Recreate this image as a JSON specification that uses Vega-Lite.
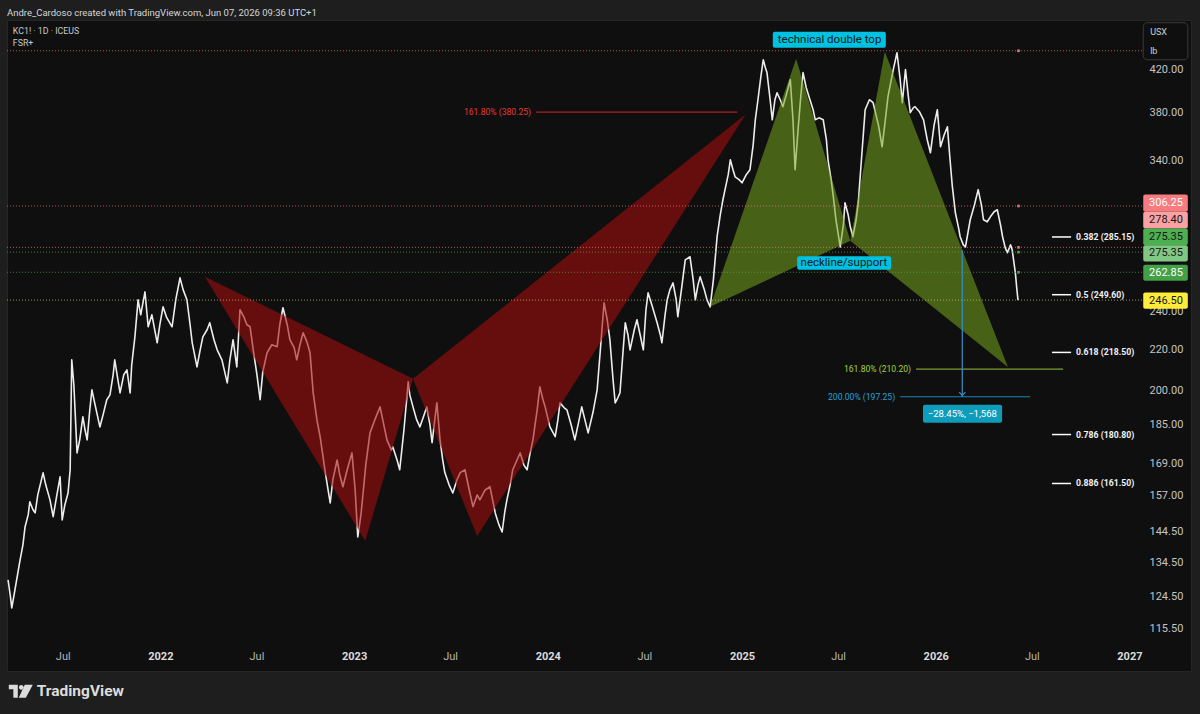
{
  "$schema": "https://vega.github.io/schema/vega-lite/v6.json",
  "usermeta": {"embedOptions": {"actions": false}},
  "width": 1184,
  "height": 651,
  "autosize": {"type": "none"},
  "padding": {"left": 7, "top": 20, "right": 9, "bottom": 43},
  "background": "#1e1e1e",
  "config": {
    "view": {"fill": "#0f0f0f", "stroke": "#262626"},
    "font": "Roboto",
    "text": {"font": "Roboto"}
  },
  "title": {
    "text": "Andre_Cardoso created with TradingView.com, Jun 07, 2026 09:36 UTC+1",
    "anchor": "start",
    "frame": "group",
    "offset": 3,
    "fontSize": 9.5,
    "font": "Roboto",
    "fontWeight": "normal",
    "color": "#d6d6d6"
  },
  "datasets": {
    "px": [
      {"d":"2021-03-20","p":129.3},{"d":"2021-03-24","p":124.9},{"d":"2021-03-27","p":121.2},{"d":"2021-04-02","p":126.4},
      {"d":"2021-04-11","p":134.8},{"d":"2021-04-17","p":140.2},{"d":"2021-04-21","p":146.1},{"d":"2021-04-27","p":150.3},
      {"d":"2021-04-30","p":154.8},{"d":"2021-05-06","p":152.0},{"d":"2021-05-10","p":150.9},{"d":"2021-05-15","p":157.3},
      {"d":"2021-05-25","p":165.5},{"d":"2021-05-30","p":161.0},{"d":"2021-06-07","p":155.5},{"d":"2021-06-13","p":149.6},
      {"d":"2021-06-20","p":157.3},{"d":"2021-06-26","p":164.0},{"d":"2021-06-30","p":148.5},{"d":"2021-07-05","p":153.7},
      {"d":"2021-07-11","p":158.0},{"d":"2021-07-15","p":166.7},{"d":"2021-07-18","p":214.8},{"d":"2021-07-22","p":202.7},
      {"d":"2021-07-28","p":173.3},{"d":"2021-08-02","p":178.6},{"d":"2021-08-08","p":188.3},{"d":"2021-08-12","p":182.8},
      {"d":"2021-08-16","p":178.6},{"d":"2021-08-21","p":191.4},{"d":"2021-08-25","p":200.4},{"d":"2021-08-31","p":193.6},
      {"d":"2021-09-09","p":184.0},{"d":"2021-09-15","p":189.2},{"d":"2021-09-22","p":195.9},{"d":"2021-09-28","p":198.1},
      {"d":"2021-10-04","p":207.5},{"d":"2021-10-07","p":214.8},{"d":"2021-10-13","p":205.1},{"d":"2021-10-17","p":199.0},
      {"d":"2021-10-24","p":207.5},{"d":"2021-10-30","p":209.9},{"d":"2021-11-05","p":199.0},{"d":"2021-11-08","p":212.3},
      {"d":"2021-11-14","p":226.5},{"d":"2021-11-20","p":246.7},{"d":"2021-11-25","p":238.3},{"d":"2021-12-03","p":251.2},
      {"d":"2021-12-09","p":231.8},{"d":"2021-12-16","p":238.3},{"d":"2021-12-26","p":223.4},{"d":"2021-12-31","p":232.9},
      {"d":"2022-01-06","p":242.7},{"d":"2022-01-13","p":236.7},{"d":"2022-01-23","p":231.8},{"d":"2022-01-30","p":246.7},
      {"d":"2022-02-07","p":259.5},{"d":"2022-02-13","p":252.4},{"d":"2022-02-20","p":246.7},{"d":"2022-02-26","p":232.9},
      {"d":"2022-03-02","p":223.4},{"d":"2022-03-11","p":211.3},{"d":"2022-03-17","p":219.8},{"d":"2022-03-22","p":226.5},
      {"d":"2022-03-30","p":230.2},{"d":"2022-04-04","p":234.0},{"d":"2022-04-12","p":225.0},{"d":"2022-04-18","p":219.8},
      {"d":"2022-04-27","p":214.8},{"d":"2022-05-07","p":203.7},{"d":"2022-05-12","p":214.8},{"d":"2022-05-18","p":225.0},
      {"d":"2022-05-25","p":211.3},{"d":"2022-05-31","p":241.1},{"d":"2022-06-08","p":236.7},{"d":"2022-06-13","p":232.9},
      {"d":"2022-06-19","p":231.8},{"d":"2022-06-25","p":219.8},{"d":"2022-07-02","p":207.5},{"d":"2022-07-08","p":195.9},
      {"d":"2022-07-13","p":208.9},{"d":"2022-07-21","p":218.3},{"d":"2022-07-30","p":222.4},{"d":"2022-08-09","p":221.4},
      {"d":"2022-08-14","p":232.9},{"d":"2022-08-20","p":242.2},{"d":"2022-08-28","p":232.9},{"d":"2022-09-02","p":225.0},
      {"d":"2022-09-10","p":220.9},{"d":"2022-09-15","p":214.8},{"d":"2022-09-21","p":222.4},{"d":"2022-09-27","p":228.6},
      {"d":"2022-10-04","p":224.0},{"d":"2022-10-10","p":218.3},{"d":"2022-10-16","p":199.0},{"d":"2022-10-23","p":187.0},
      {"d":"2022-10-29","p":179.9},{"d":"2022-11-03","p":172.5},{"d":"2022-11-07","p":166.7},{"d":"2022-11-13","p":159.1},
      {"d":"2022-11-17","p":154.4},{"d":"2022-11-22","p":162.9},{"d":"2022-11-30","p":170.5},{"d":"2022-12-05","p":164.8},
      {"d":"2022-12-11","p":160.3},{"d":"2022-12-19","p":166.7},{"d":"2022-12-28","p":173.3},{"d":"2023-01-03","p":159.1},
      {"d":"2023-01-08","p":142.8},{"d":"2023-01-14","p":150.3},{"d":"2023-01-18","p":158.0},{"d":"2023-01-23","p":168.5},
      {"d":"2023-01-31","p":181.5},{"d":"2023-02-09","p":187.0},{"d":"2023-02-19","p":192.7},{"d":"2023-02-26","p":184.9},
      {"d":"2023-03-04","p":178.6},{"d":"2023-03-12","p":174.5},{"d":"2023-03-15","p":175.7},{"d":"2023-03-23","p":170.5},
      {"d":"2023-03-28","p":166.7},{"d":"2023-04-05","p":182.8},{"d":"2023-04-13","p":204.2},{"d":"2023-04-16","p":198.1},
      {"d":"2023-04-22","p":192.7},{"d":"2023-04-29","p":187.0},{"d":"2023-05-05","p":184.0},{"d":"2023-05-13","p":189.2},
      {"d":"2023-05-18","p":192.7},{"d":"2023-05-24","p":184.9},{"d":"2023-05-28","p":177.4},{"d":"2023-06-02","p":187.0},
      {"d":"2023-06-06","p":194.5},{"d":"2023-06-12","p":178.6},{"d":"2023-06-17","p":170.5},{"d":"2023-06-21","p":165.6},
      {"d":"2023-06-29","p":161.0},{"d":"2023-07-06","p":158.0},{"d":"2023-07-14","p":162.9},{"d":"2023-07-20","p":165.6},
      {"d":"2023-07-29","p":166.7},{"d":"2023-08-06","p":159.1},{"d":"2023-08-13","p":153.1},{"d":"2023-08-21","p":157.3},
      {"d":"2023-08-26","p":155.5},{"d":"2023-09-05","p":159.1},{"d":"2023-09-14","p":160.3},{"d":"2023-09-24","p":150.9},
      {"d":"2023-10-01","p":146.8},{"d":"2023-10-07","p":144.4},{"d":"2023-10-12","p":151.3},{"d":"2023-10-16","p":155.5},
      {"d":"2023-10-22","p":161.0},{"d":"2023-10-27","p":166.7},{"d":"2023-11-04","p":170.5},{"d":"2023-11-10","p":173.3},
      {"d":"2023-11-17","p":168.5},{"d":"2023-11-23","p":166.7},{"d":"2023-11-28","p":172.5},{"d":"2023-12-04","p":178.6},
      {"d":"2023-12-12","p":191.4},{"d":"2023-12-17","p":201.8},{"d":"2023-12-23","p":195.9},{"d":"2023-12-27","p":192.7},
      {"d":"2024-01-05","p":184.0},{"d":"2024-01-15","p":179.9},{"d":"2024-01-20","p":187.0},{"d":"2024-01-24","p":194.5},
      {"d":"2024-02-01","p":192.3},{"d":"2024-02-06","p":191.4},{"d":"2024-02-14","p":184.9},{"d":"2024-02-21","p":178.6},
      {"d":"2024-02-29","p":187.0},{"d":"2024-03-05","p":192.7},{"d":"2024-03-11","p":187.0},{"d":"2024-03-17","p":181.5},
      {"d":"2024-03-26","p":190.1},{"d":"2024-04-03","p":200.4},{"d":"2024-04-08","p":216.3},{"d":"2024-04-12","p":230.2},
      {"d":"2024-04-16","p":245.0},{"d":"2024-04-22","p":235.6},{"d":"2024-04-27","p":225.0},{"d":"2024-05-03","p":205.1},
      {"d":"2024-05-07","p":194.5},{"d":"2024-05-12","p":196.8},{"d":"2024-05-16","p":199.0},{"d":"2024-05-22","p":219.8},
      {"d":"2024-05-26","p":234.0},{"d":"2024-05-31","p":227.6},{"d":"2024-06-04","p":219.8},{"d":"2024-06-12","p":230.2},
      {"d":"2024-06-17","p":235.6},{"d":"2024-06-23","p":227.6},{"d":"2024-06-29","p":219.8},{"d":"2024-07-04","p":241.1},
      {"d":"2024-07-08","p":250.7},{"d":"2024-07-15","p":243.9},{"d":"2024-07-25","p":234.0},{"d":"2024-07-31","p":227.6},
      {"d":"2024-08-03","p":223.4},{"d":"2024-08-09","p":238.3},{"d":"2024-08-13","p":246.7},{"d":"2024-08-18","p":252.4},
      {"d":"2024-08-24","p":256.5},{"d":"2024-08-30","p":246.7},{"d":"2024-09-02","p":237.2},{"d":"2024-09-10","p":255.3},
      {"d":"2024-09-16","p":270.5},{"d":"2024-09-25","p":272.4},{"d":"2024-10-01","p":258.3},{"d":"2024-10-05","p":246.7},
      {"d":"2024-10-10","p":255.3},{"d":"2024-10-14","p":260.1},{"d":"2024-10-22","p":252.4},{"d":"2024-10-27","p":246.7},
      {"d":"2024-11-02","p":242.7},{"d":"2024-11-08","p":258.3},{"d":"2024-11-15","p":285.3},{"d":"2024-11-21","p":300.1},
      {"d":"2024-11-26","p":310.7},{"d":"2024-11-30","p":318.0},{"d":"2024-12-06","p":329.2},{"d":"2024-12-10","p":340.7},
      {"d":"2024-12-15","p":333.0},{"d":"2024-12-19","p":327.6},{"d":"2024-12-27","p":325.3},{"d":"2025-01-01","p":323.1},
      {"d":"2025-01-09","p":329.2},{"d":"2025-01-16","p":333.0},{"d":"2025-01-22","p":352.7},{"d":"2025-01-26","p":373.6},
      {"d":"2025-01-31","p":391.3},{"d":"2025-02-06","p":414.6},{"d":"2025-02-10","p":429.1},{"d":"2025-02-14","p":421.2},
      {"d":"2025-02-17","p":416.6},{"d":"2025-02-23","p":391.3},{"d":"2025-02-27","p":373.6},{"d":"2025-03-04","p":391.3},
      {"d":"2025-03-08","p":397.7},{"d":"2025-03-14","p":391.3},{"d":"2025-03-19","p":385.0},{"d":"2025-03-27","p":398.7},
      {"d":"2025-04-02","p":409.8},{"d":"2025-04-07","p":373.6},{"d":"2025-04-11","p":333.0},{"d":"2025-04-17","p":367.6},
      {"d":"2025-04-22","p":395.9},{"d":"2025-04-26","p":416.6},{"d":"2025-05-02","p":402.3},{"d":"2025-05-09","p":391.3},
      {"d":"2025-05-15","p":382.4},{"d":"2025-05-19","p":373.6},{"d":"2025-05-26","p":375.3},{"d":"2025-06-03","p":373.6},
      {"d":"2025-06-09","p":356.8},{"d":"2025-06-12","p":340.7},{"d":"2025-06-18","p":325.3},{"d":"2025-06-22","p":312.9},
      {"d":"2025-06-27","p":296.7},{"d":"2025-07-05","p":278.7},{"d":"2025-07-11","p":293.3},{"d":"2025-07-14","p":308.6},
      {"d":"2025-07-20","p":300.1},{"d":"2025-07-24","p":291.9},{"d":"2025-07-29","p":285.3},{"d":"2025-08-04","p":296.7},
      {"d":"2025-08-08","p":308.6},{"d":"2025-08-14","p":340.7},{"d":"2025-08-21","p":382.4},{"d":"2025-08-29","p":391.3},
      {"d":"2025-09-05","p":388.6},{"d":"2025-09-15","p":369.3},{"d":"2025-09-22","p":351.1},{"d":"2025-09-28","p":373.6},
      {"d":"2025-10-03","p":394.1},{"d":"2025-10-13","p":419.4},{"d":"2025-10-20","p":436.1},{"d":"2025-10-26","p":409.8},
      {"d":"2025-10-30","p":388.6},{"d":"2025-11-05","p":419.4},{"d":"2025-11-10","p":395.9},{"d":"2025-11-14","p":379.8},
      {"d":"2025-11-20","p":384.2},{"d":"2025-11-23","p":385.1},{"d":"2025-12-01","p":380.9},{"d":"2025-12-09","p":373.6},
      {"d":"2025-12-16","p":356.8},{"d":"2025-12-22","p":346.3},{"d":"2025-12-29","p":369.3},{"d":"2026-01-04","p":382.4},
      {"d":"2026-01-10","p":351.1},{"d":"2026-01-17","p":360.9},{"d":"2026-01-23","p":367.6},{"d":"2026-01-28","p":340.7},
      {"d":"2026-02-01","p":321.6},{"d":"2026-02-07","p":301.5},{"d":"2026-02-13","p":291.2},{"d":"2026-02-16","p":285.3},
      {"d":"2026-02-22","p":280.0},{"d":"2026-02-26","p":278.7},{"d":"2026-03-03","p":288.6},{"d":"2026-03-07","p":296.7},
      {"d":"2026-03-15","p":307.1},{"d":"2026-03-22","p":318.0},{"d":"2026-03-28","p":307.1},{"d":"2026-04-01","p":296.7},
      {"d":"2026-04-08","p":295.3},{"d":"2026-04-14","p":298.7},{"d":"2026-04-21","p":302.2},{"d":"2026-04-27","p":303.6},
      {"d":"2026-05-03","p":293.3},{"d":"2026-05-07","p":285.3},{"d":"2026-05-12","p":278.1},{"d":"2026-05-16","p":275.0},
      {"d":"2026-05-22","p":280.0},{"d":"2026-05-25","p":276.9},{"d":"2026-05-31","p":262.6},{"d":"2026-06-03","p":252.4},
      {"d":"2026-06-05","p":246.5}
    ],
    "tri": [
      {"s":"r1","g":"red","i":0,"d":"2022-03-26","p":260.1},
      {"s":"r1","g":"red","i":1,"d":"2023-01-22","p":141.5},
      {"s":"r1","g":"red","i":2,"d":"2023-04-22","p":205.6},
      {"s":"r2","g":"red","i":0,"d":"2023-04-22","p":205.6},
      {"s":"r2","g":"red","i":1,"d":"2023-08-21","p":143.1},
      {"s":"r2","g":"red","i":2,"d":"2025-01-08","p":378.5},
      {"s":"g1","g":"green","i":0,"d":"2024-11-02","p":242.7},
      {"s":"g1","g":"green","i":1,"d":"2025-04-13","p":430.1},
      {"s":"g1","g":"green","i":2,"d":"2025-07-24","p":282.6},
      {"s":"g2","g":"green","i":0,"d":"2025-07-24","p":282.6},
      {"s":"g2","g":"green","i":1,"d":"2025-09-27","p":437.1},
      {"s":"g2","g":"green","i":2,"d":"2026-05-17","p":211.3}
    ],
    "lvl": [
      {"p":438.1,"k":"r","d0":"2021-03-18","d1":"2027-01-25","dd":"2026-06-06","dot":1},
      {"p":306.25,"k":"r","d0":"2021-03-18","d1":"2027-01-25","dd":"2026-06-06","dot":1},
      {"p":278.4,"k":"r","d0":"2021-03-18","d1":"2027-01-25","dd":"2026-06-06","dot":1},
      {"p":275.35,"k":"g","d0":"2021-03-18","d1":"2027-01-25","dd":"2026-06-06","dot":1},
      {"p":262.85,"k":"g","d0":"2021-03-18","d1":"2027-01-25","dd":"2026-06-06","dot":1},
      {"p":246.5,"k":"y","d0":"2021-03-18","d1":"2027-01-25","dd":"2026-06-06","dot":0}
    ],
    "lev": [
      {"t":"161.80% (380.25)","p":380.25,"d0":"2023-12-10","d1":"2024-12-23","k":"red"},
      {"t":"161.80% (210.20)","p":210.2,"d0":"2025-11-25","d1":"2026-08-29","k":"lime"},
      {"t":"200.00% (197.25)","p":197.25,"d0":"2025-10-26","d1":"2026-06-28","k":"blue"}
    ],
    "arr": [{"d":"2026-02-20","p0":276.5,"p1":197.25,"ph":197.9}],
    "box": [
      {"t":"technical double top","d0":"2025-02-28","d1":"2025-09-29","lo":441.2,"hi":457.7,"dm":"2025-06-15","pm":449.4,"k":"lbl"},
      {"t":"neckline/support","d0":"2025-04-15","d1":"2025-10-09","lo":264.4,"hi":272.8,"dm":"2025-07-12","pm":268.6,"k":"lbl"},
      {"t":"−28.45%, −1,568","d0":"2025-12-08","d1":"2026-05-06","lo":185.8,"hi":193.6,"dm":"2026-02-20","pm":189.7,"k":"range"}
    ],
    "fib": [
      {"t":"0.382 (285.15)","p":285.15,"d0":"2026-08-08","d1":"2026-09-13"},
      {"t":"0.5 (249.60)","p":249.6,"d0":"2026-08-08","d1":"2026-09-13"},
      {"t":"0.618 (218.50)","p":218.5,"d0":"2026-08-08","d1":"2026-09-13"},
      {"t":"0.786 (180.80)","p":180.8,"d0":"2026-08-08","d1":"2026-09-13"},
      {"t":"0.886 (161.50)","p":161.5,"d0":"2026-08-08","d1":"2026-09-13"}
    ],
    "tag": [
      {"t":"306.25","lo":302.3,"hi":314.4,"m":308.1,"k":"r","ink":"w"},
      {"t":"278.40","lo":290.7,"hi":302.3,"m":296.5,"k":"r2","ink":"d"},
      {"t":"275.35","lo":279.8,"hi":290.7,"m":285.3,"k":"g","ink":"d"},
      {"t":"275.35","lo":269.4,"hi":279.8,"m":274.5,"k":"g2","ink":"d"},
      {"t":"262.85","lo":257.8,"hi":267.5,"m":262.6,"k":"g3","ink":"w"},
      {"t":"246.50","lo":241.6,"hi":250.8,"m":246.1,"k":"y","ink":"d"}
    ],
    "unit": [
      {"t":"USX","d":"2027-02-09","p":457.7,"d0":"2027-01-27","d1":"2027-04-21","lo":429.1,"hi":467.4},
      {"t":"lb","d":"2027-02-09","p":438.1,"d0":"2027-01-27","d1":"2027-04-21","lo":429.1,"hi":467.4}
    ],
    "note": [
      {"t":"KC1! · 1D · ICEUS","d":"2021-03-29","p":458.8},
      {"t":"FSR+","d":"2021-03-29","p":446.3}
    ],
    "logo": [{"t":"TradingView","d":"2021-05-13","dl":"2021-04-13","p":100}]
  },
  "layer": [
    {
      "data": {"name": "px"},
      "mark": {"type": "line", "color": "#ededed", "strokeWidth": 1.6, "strokeJoin": "round"},
      "encoding": {
        "x": {
          "field": "d", "type": "temporal",
          "scale": {"type": "utc", "nice": false, "domain": [{"year": 2021, "month": 3, "date": 18, "utc": true}, {"year": 2027, "month": 4, "date": 27, "utc": true}]},
          "axis": {
            "orient": "bottom", "offset": -31, "title": null, "domain": false, "ticks": false, "grid": false,
            "values": [
              {"year": 2021, "month": 7, "date": 1, "utc": true}, {"year": 2022, "month": 1, "date": 1, "utc": true},
              {"year": 2022, "month": 7, "date": 1, "utc": true}, {"year": 2023, "month": 1, "date": 1, "utc": true},
              {"year": 2023, "month": 7, "date": 1, "utc": true}, {"year": 2024, "month": 1, "date": 1, "utc": true},
              {"year": 2024, "month": 7, "date": 1, "utc": true}, {"year": 2025, "month": 1, "date": 1, "utc": true},
              {"year": 2025, "month": 7, "date": 1, "utc": true}, {"year": 2026, "month": 1, "date": 1, "utc": true},
              {"year": 2026, "month": 7, "date": 1, "utc": true}, {"year": 2027, "month": 1, "date": 1, "utc": true}
            ],
            "labelExpr": "utcmonth(datum.value) == 0 ? utcFormat(datum.value, '%Y') : 'Jul'",
            "labelPadding": 16, "labelBaseline": "middle", "labelFontSize": 11, "labelFont": "Roboto",
            "labelColor": {"condition": {"test": "utcmonth(datum.value) == 0", "value": "#dcdcdc"}, "value": "#b4b4b4"},
            "labelFontWeight": {"condition": {"test": "utcmonth(datum.value) == 0", "value": "bold"}, "value": "normal"},
            "labelOverlap": false, "labelFlush": false
          }
        },
        "y": {
          "field": "p", "type": "quantitative",
          "scale": {"type": "log", "nice": false, "domain": [104.8, 470.3]},
          "axis": {
            "orient": "right", "offset": -48, "title": null, "domain": false, "ticks": false, "grid": false,
            "values": [115.5, 124.5, 134.5, 144.5, 157, 169, 185, 200, 220, 240, 340, 380, 420],
            "format": ".2f", "labelPadding": 6, "labelFontSize": 11, "labelFont": "Roboto", "labelColor": "#c4c4c4",
            "labelOverlap": false, "labelFlush": false
          }
        }
      }
    },
    {
      "data": {"name": "tri"},
      "transform": [{"filter": "datum.g == 'red'"}],
      "mark": {"type": "line", "fill": "#a50e0e", "fillOpacity": 0.58, "strokeOpacity": 0, "strokeWidth": 0},
      "encoding": {
        "x": {"field": "d", "type": "temporal", "scale": {"type": "utc"}},
        "y": {"field": "p", "type": "quantitative", "scale": {"type": "log"}},
        "detail": {"field": "s"},
        "order": {"field": "i", "type": "quantitative"}
      }
    },
    {
      "data": {"name": "tri"},
      "transform": [{"filter": "datum.g == 'green'"}],
      "mark": {"type": "line", "fill": "#76a71f", "fillOpacity": 0.55, "strokeOpacity": 0, "strokeWidth": 0},
      "encoding": {
        "x": {"field": "d", "type": "temporal", "scale": {"type": "utc"}},
        "y": {"field": "p", "type": "quantitative", "scale": {"type": "log"}},
        "detail": {"field": "s"},
        "order": {"field": "i", "type": "quantitative"}
      }
    },
    {
      "data": {"name": "lvl"},
      "mark": {"type": "rule", "strokeDash": [1, 2], "strokeWidth": 1, "opacity": 0.7},
      "encoding": {
        "x": {"field": "d0", "type": "temporal", "scale": {"type": "utc"}},
        "x2": {"field": "d1"},
        "y": {"field": "p", "type": "quantitative", "scale": {"type": "log"}},
        "color": {"field": "k", "type": "nominal", "scale": {"domain": ["r", "g", "y"], "range": ["#f77c80", "#4caf50", "#c9c96a"]}, "legend": null}
      }
    },
    {
      "data": {"name": "lvl"},
      "transform": [{"filter": "datum.dot == 1"}],
      "mark": {"type": "point", "shape": "square", "filled": true, "size": 7, "opacity": 0.9},
      "encoding": {
        "x": {"field": "dd", "type": "temporal", "scale": {"type": "utc"}},
        "y": {"field": "p", "type": "quantitative", "scale": {"type": "log"}},
        "color": {"field": "k", "type": "nominal", "scale": {"domain": ["r", "g", "y"], "range": ["#f77c80", "#4caf50", "#c9c96a"]}, "legend": null}
      }
    },
    {
      "data": {"name": "lev"},
      "mark": {"type": "rule", "strokeWidth": 1.2, "opacity": 0.85},
      "encoding": {
        "x": {"field": "d0", "type": "temporal", "scale": {"type": "utc"}},
        "x2": {"field": "d1"},
        "y": {"field": "p", "type": "quantitative", "scale": {"type": "log"}},
        "color": {"field": "k", "type": "nominal", "scale": {"domain": ["red", "lime", "blue"], "range": ["#c62828", "#8fb83a", "#2196d3"]}, "legend": null}
      }
    },
    {
      "data": {"name": "lev"},
      "mark": {"type": "text", "align": "right", "baseline": "middle", "dx": -5, "fontSize": 8.6},
      "encoding": {
        "x": {"field": "d0", "type": "temporal", "scale": {"type": "utc"}},
        "y": {"field": "p", "type": "quantitative", "scale": {"type": "log"}},
        "text": {"field": "t"},
        "color": {"field": "k", "type": "nominal", "scale": {"domain": ["red", "lime", "blue"], "range": ["#e53935", "#a4d13a", "#2aa0d8"]}, "legend": null}
      }
    },
    {
      "data": {"name": "arr"},
      "mark": {"type": "rule", "color": "#3a8fc8", "strokeWidth": 1.2},
      "encoding": {
        "x": {"field": "d", "type": "temporal", "scale": {"type": "utc"}},
        "y": {"field": "p0", "type": "quantitative", "scale": {"type": "log"}},
        "y2": {"field": "p1"}
      }
    },
    {
      "data": {"name": "arr"},
      "mark": {"type": "point", "shape": "M-1,-1L0,0L1,-1", "filled": false, "size": 40, "color": "#3a8fc8", "strokeWidth": 1.2, "opacity": 1},
      "encoding": {
        "x": {"field": "d", "type": "temporal", "scale": {"type": "utc"}},
        "y": {"field": "ph", "type": "quantitative", "scale": {"type": "log"}}
      }
    },
    {
      "data": {"name": "box"},
      "mark": {"type": "rect", "cornerRadius": 2},
      "encoding": {
        "x": {"field": "d0", "type": "temporal", "scale": {"type": "utc"}},
        "x2": {"field": "d1"},
        "y": {"field": "lo", "type": "quantitative", "scale": {"type": "log"}},
        "y2": {"field": "hi"},
        "fill": {"field": "k", "type": "nominal", "scale": {"domain": ["lbl", "range"], "range": ["#00c2e0", "#0e9cba"]}, "legend": null}
      }
    },
    {
      "data": {"name": "box"},
      "transform": [{"filter": "datum.k == 'lbl'"}],
      "mark": {"type": "text", "fontSize": 11.5, "color": "#0a1a20"},
      "encoding": {
        "x": {"field": "dm", "type": "temporal", "scale": {"type": "utc"}},
        "y": {"field": "pm", "type": "quantitative", "scale": {"type": "log"}},
        "text": {"field": "t"}
      }
    },
    {
      "data": {"name": "box"},
      "transform": [{"filter": "datum.k == 'range'"}],
      "mark": {"type": "text", "fontSize": 9.5, "color": "#ffffff"},
      "encoding": {
        "x": {"field": "dm", "type": "temporal", "scale": {"type": "utc"}},
        "y": {"field": "pm", "type": "quantitative", "scale": {"type": "log"}},
        "text": {"field": "t"}
      }
    },
    {
      "data": {"name": "fib"},
      "mark": {"type": "rule", "color": "#ffffff", "strokeWidth": 1.5},
      "encoding": {
        "x": {"field": "d0", "type": "temporal", "scale": {"type": "utc"}},
        "x2": {"field": "d1"},
        "y": {"field": "p", "type": "quantitative", "scale": {"type": "log"}}
      }
    },
    {
      "data": {"name": "fib"},
      "mark": {"type": "text", "align": "left", "dx": 5, "fontSize": 8.7, "fontWeight": "bold", "color": "#f2f2f2"},
      "encoding": {
        "x": {"field": "d1", "type": "temporal", "scale": {"type": "utc"}},
        "y": {"field": "p", "type": "quantitative", "scale": {"type": "log"}},
        "text": {"field": "t"}
      }
    },
    {
      "data": {"name": "tag"},
      "mark": {"type": "rect", "cornerRadius": 2},
      "encoding": {
        "x": {"datum": {"year": 2027, "month": 1, "date": 27, "utc": true}, "type": "temporal", "scale": {"type": "utc"}},
        "x2": {"datum": {"year": 2027, "month": 4, "date": 21, "utc": true}},
        "y": {"field": "lo", "type": "quantitative", "scale": {"type": "log"}},
        "y2": {"field": "hi"},
        "fill": {"field": "k", "type": "nominal", "scale": {"domain": ["r", "r2", "g", "g2", "g3", "y"], "range": ["#f77c80", "#faa1a4", "#4caf50", "#81c784", "#43a047", "#ffeb3b"]}, "legend": null}
      }
    },
    {
      "data": {"name": "tag"},
      "mark": {"type": "text", "align": "left", "fontSize": 11},
      "encoding": {
        "x": {"datum": {"year": 2027, "month": 2, "date": 7, "utc": true}, "type": "temporal", "scale": {"type": "utc"}},
        "y": {"field": "m", "type": "quantitative", "scale": {"type": "log"}},
        "text": {"field": "t"},
        "color": {"field": "ink", "type": "nominal", "scale": {"domain": ["w", "d"], "range": ["#ffffff", "#161616"]}, "legend": null}
      }
    },
    {
      "data": {"name": "unit"},
      "transform": [{"filter": "datum.t == 'USX'"}],
      "mark": {"type": "rect", "fill": "#0f0f0f", "stroke": "#3a3a3a", "strokeWidth": 1, "cornerRadius": 4},
      "encoding": {
        "x": {"field": "d0", "type": "temporal", "scale": {"type": "utc"}},
        "x2": {"field": "d1"},
        "y": {"field": "lo", "type": "quantitative", "scale": {"type": "log"}},
        "y2": {"field": "hi"}
      }
    },
    {
      "data": {"name": "unit"},
      "mark": {"type": "text", "align": "left", "fontSize": 9, "color": "#d0d0d0"},
      "encoding": {
        "x": {"field": "d", "type": "temporal", "scale": {"type": "utc"}},
        "y": {"field": "p", "type": "quantitative", "scale": {"type": "log"}},
        "text": {"field": "t"}
      }
    },
    {
      "data": {"name": "note"},
      "mark": {"type": "text", "align": "left", "fontSize": 8.8, "color": "#c8c8c8"},
      "encoding": {
        "x": {"field": "d", "type": "temporal", "scale": {"type": "utc"}},
        "y": {"field": "p", "type": "quantitative", "scale": {"type": "log"}},
        "text": {"field": "t"}
      }
    },
    {
      "data": {"name": "logo"},
      "mark": {"type": "point", "shape": "M-1,-0.54L-0.25,-0.54L-0.25,0.54L-0.62,0.54L-0.62,-0.17L-1,-0.17Z M-0.16,-0.33A0.2,0.2 0 1 0 0.24,-0.33A0.2,0.2 0 1 0 -0.16,-0.33Z M0.33,-0.54L1,-0.54L0.42,0.54L-0.17,0.54Z", "filled": true, "size": 576, "color": "#dcdcdc", "opacity": 1},
      "encoding": {
        "x": {"field": "dl", "type": "temporal", "scale": {"type": "utc"}},
        "y": {"field": "p", "type": "quantitative", "scale": {"type": "log"}}
      }
    },
    {
      "data": {"name": "logo"},
      "mark": {"type": "text", "align": "left", "fontSize": 15.5, "fontWeight": "bold", "color": "#dcdcdc"},
      "encoding": {
        "x": {"field": "d", "type": "temporal", "scale": {"type": "utc"}},
        "y": {"field": "p", "type": "quantitative", "scale": {"type": "log"}},
        "text": {"field": "t"}
      }
    }
  ],
  "resolve": {"scale": {"color": "independent", "fill": "independent"}}
}
